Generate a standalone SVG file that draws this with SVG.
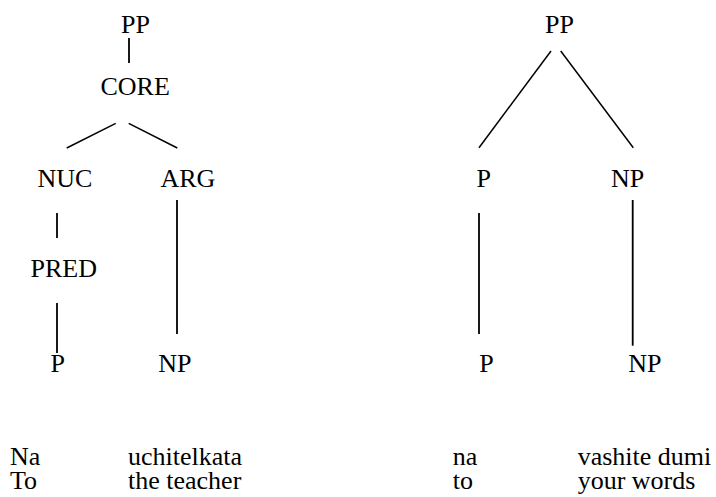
<svg xmlns="http://www.w3.org/2000/svg" width="716" height="497" viewBox="0 0 716 497">
  <style>
    text { font-family: 'Liberation Serif', 'Times New Roman', Tinos, 'DejaVu Serif', serif; font-size: 26px; fill: #000; }
    .edge { stroke: #000; stroke-width: 1.8; fill: none; }
    .diag { stroke: #000; stroke-width: 1.5; fill: none; }
  </style>
  <rect width="716" height="497" fill="#fff"/>

  <!-- tree edges -->
  <g id="connectors">
    <!-- left tree -->
    <line class="edge" x1="129" y1="38" x2="129" y2="63"/>
    <line class="diag" x1="115.7" y1="123.3" x2="66.7" y2="148"/>
    <line class="diag" x1="128.7" y1="123.3" x2="177.3" y2="148"/>
    <line class="edge" x1="57" y1="213" x2="57" y2="238"/>
    <line class="edge" x1="177" y1="200" x2="177" y2="334"/>
    <line class="edge" x1="57" y1="303" x2="57" y2="353"/>
    <!-- right tree -->
    <line class="diag" x1="551" y1="51" x2="479" y2="147.7"/>
    <line class="diag" x1="560.7" y1="51" x2="633.3" y2="147.7"/>
    <line class="edge" x1="479" y1="213" x2="479" y2="334"/>
    <line class="edge" x1="632.7" y1="200" x2="632.7" y2="345.7"/>
  </g>

  <!-- left tree nodes -->
  <g id="l-pp"><text x="121" y="33">PP</text></g>
  <g id="l-core"><text x="100.5" y="94.5">CORE</text></g>
  <g id="l-nuc"><text x="37.5" y="186.7">NUC</text></g>
  <g id="l-arg"><text x="160.5" y="186.7">ARG</text></g>
  <g id="l-pred"><text x="30.5" y="276.7">PRED</text></g>
  <g id="l-p"><text x="50.5" y="371.7">P</text></g>
  <g id="l-np"><text x="158.3" y="371.7">NP</text></g>

  <!-- right tree nodes -->
  <g id="r-pp"><text x="545" y="33">PP</text></g>
  <g id="r-p1"><text x="476.5" y="186.7">P</text></g>
  <g id="r-np1"><text x="611" y="186.7">NP</text></g>
  <g id="r-p2"><text x="479.3" y="371.7">P</text></g>
  <g id="r-np2"><text x="628.3" y="371.7">NP</text></g>

  <!-- glosses -->
  <g id="gloss-left">
    <text x="10" y="464.5">Na</text>
    <text x="128" y="464.5">uchitelkata</text>
    <text x="10" y="488.5">To</text>
    <text x="128" y="488.5">the teacher</text>
  </g>
  <g id="gloss-right">
    <text x="452.7" y="464.5">na</text>
    <text x="577.7" y="464.5">vashite dumi</text>
    <text x="452.7" y="488.5">to</text>
    <text x="577.7" y="488.5">your words</text>
  </g>
</svg>
